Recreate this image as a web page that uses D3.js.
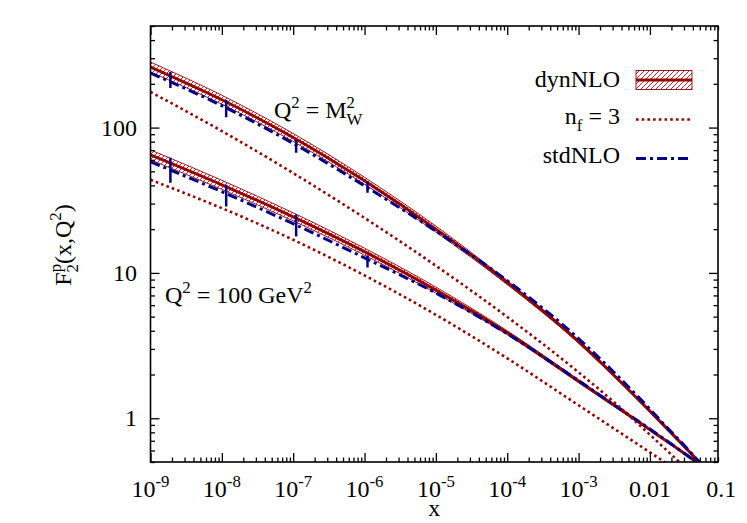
<!DOCTYPE html>
<html><head><meta charset="utf-8">
<script src="https://cdn.jsdelivr.net/npm/d3@7"></script>
<style>
html,body{margin:0;padding:0;background:#fff;}
svg{display:block;font-family:"Liberation Serif","Times New Roman",serif;}
</style></head><body>
<svg id="chart" width="747" height="523"></svg>
<script>
// ---------------- data ----------------
const xGrid = [1e-9, 1e-8, 1e-7, 1e-6, 1e-5, 1e-4, 1e-3, 3e-3, 1e-2, 2e-2, 3e-2, 5e-2, 7e-2];

// Q^2 = M_W^2
const mwDyn   = [261, 155.4, 85.5, 43.0, 20.0, 8.58, 3.365, 2.017, 1.119, 0.790, 0.643, 0.496, 0.417];
const mwDynHi = [282.4, 166.9, 91.1, 45.5, 21.0, 8.85, 3.446, 2.055, 1.137, 0.803, 0.653, 0.504, 0.424];
const mwDynLo = [241.2, 144.7, 80.3, 40.7, 19.07, 8.31, 3.286, 1.979, 1.101, 0.778, 0.633, 0.488, 0.410];
const mwNf3   = [176, 94.6, 48.6, 23.9, 11.2, 4.98, 2.07, 1.316, 0.770, 0.562, 0.468, 0.370, 0.316];
const mwStd   = [237.4, 141.4, 77.8, 39.7, 19.4, 8.85, 3.53, 2.115, 1.155, 0.803, 0.654, 0.496, 0.417];

// Q^2 = 100 GeV^2
const q100Dyn   = [64.9, 40.4, 24.3, 14.0, 7.62, 3.875, 1.80, 1.248, 0.835, 0.661, 0.575, 0.482, 0.428];
const q100DynHi = [70.2, 43.4, 25.9, 14.8, 7.99, 4.0, 1.843, 1.272, 0.848, 0.672, 0.584, 0.490, 0.435];
const q100DynLo = [60.0, 37.6, 22.8, 13.25, 7.26, 3.755, 1.758, 1.225, 0.822, 0.651, 0.566, 0.474, 0.421];
const q100Nf3   = [43.7, 27.9, 16.9, 9.61, 5.15, 2.585, 1.228, 0.861, 0.583, 0.465, 0.406, 0.342, 0.305];
const q100Std   = [58.2, 36.2, 21.8, 12.7, 7.27, 3.815, 1.814, 1.257, 0.842, 0.664, 0.576, 0.482, 0.428];

// stdNLO error bars
const errX      = [1.9e-9, 1.15e-8, 1.1e-7, 1.1e-6];
const mwErrLo   = [187, 118, 67, 35.6];
const mwErrHi   = [241, 155, 82.3, 42.4];
const q100ErrLo = [41.7, 28.6, 17.8, 10.9];
const q100ErrHi = [62, 40.4, 25.2, 13.2];

// axes
const xTickValues = [1e-9, 1e-8, 1e-7, 1e-6, 1e-5, 1e-4, 1e-3, 1e-2, 1e-1];
const xTickLabels = [["10","-9"],["10","-8"],["10","-7"],["10","-6"],["10","-5"],["10","-4"],["10","-3"],["0.01",""],["0.1",""]];
const yTickValues = [1, 10, 100];
const yTickLabels = ["1", "10", "100"];

// ---------------- drawing ----------------
const RED = "#990000", BLUE = "#00008b";
const M = {left:150.5, right:718, top:26, bottom:462};
const svg = d3.select("#chart");
const x = d3.scaleLog().domain([1e-9, 0.09]).range([M.left, M.right]);
const y = d3.scaleLog().domain([0.5, 500]).range([M.bottom, M.top]);

const defs = svg.append("defs");
defs.append("clipPath").attr("id","clip").append("rect")
  .attr("x",M.left).attr("y",M.top).attr("width",M.right-M.left).attr("height",M.bottom-M.top);
const pat = defs.append("pattern").attr("id","hatch").attr("patternUnits","userSpaceOnUse")
  .attr("width",5).attr("height",5);
pat.append("path").attr("d","M0,5 L5,0 M-1,1 L1,-1 M4,6 L6,4")
  .attr("stroke",RED).attr("stroke-width",0.8).attr("fill","none");

const plot = svg.append("g").attr("clip-path","url(#clip)");
const line = d3.line().x(d=>x(d[0])).y(d=>y(d[1])).curve(d3.curveMonotoneX);
const area = d3.area().x(d=>x(d[0])).y0(d=>y(d[1])).y1(d=>y(d[2])).curve(d3.curveMonotoneX);
const zip = arr => xGrid.map((xv,i)=>[xv, arr[i]]);

function drawSet(dyn, lo, hi, nf3, std, eLo, eHi){
  const band = xGrid.map((xv,i)=>[xv, lo[i], hi[i]]);
  plot.append("path").attr("d", area(band)).attr("fill","url(#hatch)").attr("stroke","none");
  plot.append("path").attr("d", line(zip(lo))).attr("fill","none").attr("stroke",RED).attr("stroke-width",0.9);
  plot.append("path").attr("d", line(zip(hi))).attr("fill","none").attr("stroke",RED).attr("stroke-width",0.9);
  plot.append("path").attr("d", line(zip(nf3))).attr("fill","none").attr("stroke",RED)
    .attr("stroke-width",2.6).attr("stroke-dasharray","2.6,3.1");
  plot.append("path").attr("d", line(zip(dyn))).attr("fill","none").attr("stroke",RED).attr("stroke-width",3);
  plot.append("path").attr("d", line(zip(std))).attr("fill","none").attr("stroke",BLUE)
    .attr("stroke-width",3).attr("stroke-dasharray","10,4,3,4");
  plot.selectAll(null).data(errX.map((xv,i)=>[xv,eLo[i],eHi[i]])).enter().append("line")
    .attr("x1",d=>x(d[0])).attr("x2",d=>x(d[0])).attr("y1",d=>y(d[1])).attr("y2",d=>y(d[2]))
    .attr("stroke",BLUE).attr("stroke-width",2.5);
}
drawSet(q100Dyn, q100DynLo, q100DynHi, q100Nf3, q100Std, q100ErrLo, q100ErrHi);
drawSet(mwDyn, mwDynLo, mwDynHi, mwNf3, mwStd, mwErrLo, mwErrHi);

// ticks (inward, mirrored)
const xMajor = xTickValues.filter(v=>v<=0.09);
const xMinor = [];
for (let k=-9;k<=-2;k++) for (let m=2;m<=9;m++){ const v=m*Math.pow(10,k); if (v<=0.0901) xMinor.push(v); }
const yMinor = [];
for (let k=0;k<=2;k++) for (let m=2;m<=9;m++){ const v=m*Math.pow(10,k-1); if (v>=0.5 && v<=500) yMinor.push(v); }
for (let m=2;m<=5;m++) yMinor.push(m*100);

function ax(gen, tx, vals, size){
  const g = svg.append("g").attr("transform",tx)
    .call(gen.tickValues(vals).tickSize(size).tickFormat(""));
  g.select(".domain").remove();
  g.selectAll(".tick line").attr("stroke","#000").attr("stroke-width",1.3);
}
ax(d3.axisBottom(x), `translate(0,${M.bottom})`, xMajor, -9);
ax(d3.axisBottom(x), `translate(0,${M.bottom})`, xMinor, -4.5);
ax(d3.axisTop(x), `translate(0,${M.top})`, xMajor, -9);
ax(d3.axisTop(x), `translate(0,${M.top})`, xMinor, -4.5);
ax(d3.axisLeft(y), `translate(${M.left},0)`, yTickValues, -9);
ax(d3.axisLeft(y), `translate(${M.left},0)`, yMinor, -4.5);
ax(d3.axisRight(y), `translate(${M.right},0)`, yTickValues, -9);
ax(d3.axisRight(y), `translate(${M.right},0)`, yMinor, -4.5);

svg.append("rect").attr("x",M.left).attr("y",M.top).attr("width",M.right-M.left).attr("height",M.bottom-M.top)
  .attr("fill","none").attr("stroke","#000").attr("stroke-width",1.6);

// rich text helper
const FS = 24;
function rich(t, parts, size){
  size = size || FS;
  const small = size*0.7;
  let cur = 0;
  parts.forEach(p=>{
    const target = p.sup ? -size*0.4 : p.sub ? size*0.3 : 0;
    const ts = t.append("tspan").text(p.t).attr("font-size", (p.sup||p.sub) ? small : size);
    if (target !== cur) ts.attr("dy", target-cur);
    if (p.dx) ts.attr("dx", p.dx);
    cur = target;
  });
  return t;
}

// x tick labels
xTickValues.forEach((v,i)=>{
  const t = svg.append("text").attr("x", x(v)).attr("y", 497).attr("text-anchor","middle").attr("font-size",FS);
  const lab = xTickLabels[i];
  const parts = [{t:lab[0]}];
  if (lab[1]) parts.push({t:lab[1], sup:true});
  rich(t, parts);
});
// y tick labels
yTickValues.forEach((v,i)=>{
  svg.append("text").attr("x",137).attr("y",y(v)+8).attr("text-anchor","end")
    .attr("font-size",FS).text(yTickLabels[i]);
});
// axis titles
svg.append("text").attr("x",(M.left+M.right)/2).attr("y",516).attr("text-anchor","middle").attr("font-size",FS).text("x");
rich(svg.append("text").attr("transform","translate(71,245) rotate(-90)").attr("text-anchor","middle").attr("font-size",FS),
  [{t:"F"},{t:"p",sup:true},{t:"2",sub:true,dx:-8.4},{t:"(x,Q"},{t:"2",sup:true},{t:")"}]);

// curve labels
rich(svg.append("text").attr("x",274).attr("y",118).attr("font-size",FS),
  [{t:"Q"},{t:"2",sup:true},{t:" = M"},{t:"2",sup:true},{t:"W",sub:true,dx:-8.4}]);
rich(svg.append("text").attr("x",165).attr("y",303).attr("font-size",FS),
  [{t:"Q"},{t:"2",sup:true},{t:" = 100 GeV"},{t:"2",sup:true}]);

// legend
const LX0 = 636, LX1 = 692, LT = 620;
svg.append("text").attr("x",LT).attr("y",87).attr("text-anchor","end").attr("font-size",FS).text("dynNLO");
svg.append("rect").attr("x",LX0).attr("y",70.5).attr("width",LX1-LX0).attr("height",19)
  .attr("fill","url(#hatch)").attr("stroke",RED).attr("stroke-width",0.9);
svg.append("line").attr("x1",LX0).attr("x2",LX1).attr("y1",80).attr("y2",80).attr("stroke",RED).attr("stroke-width",3);

rich(svg.append("text").attr("x",LT).attr("y",124).attr("text-anchor","end").attr("font-size",FS),
  [{t:"n"},{t:"f",sub:true},{t:" = 3"}]);
svg.append("line").attr("x1",LX0).attr("x2",LX1).attr("y1",119.5).attr("y2",119.5).attr("stroke",RED)
  .attr("stroke-width",2.6).attr("stroke-dasharray","2.6,3.1");

svg.append("text").attr("x",LT).attr("y",163).attr("text-anchor","end").attr("font-size",FS).text("stdNLO");
svg.append("line").attr("x1",LX0).attr("x2",LX1).attr("y1",158.5).attr("y2",158.5).attr("stroke",BLUE)
  .attr("stroke-width",3).attr("stroke-dasharray","10,4,3,4");
</script>
</body></html>
